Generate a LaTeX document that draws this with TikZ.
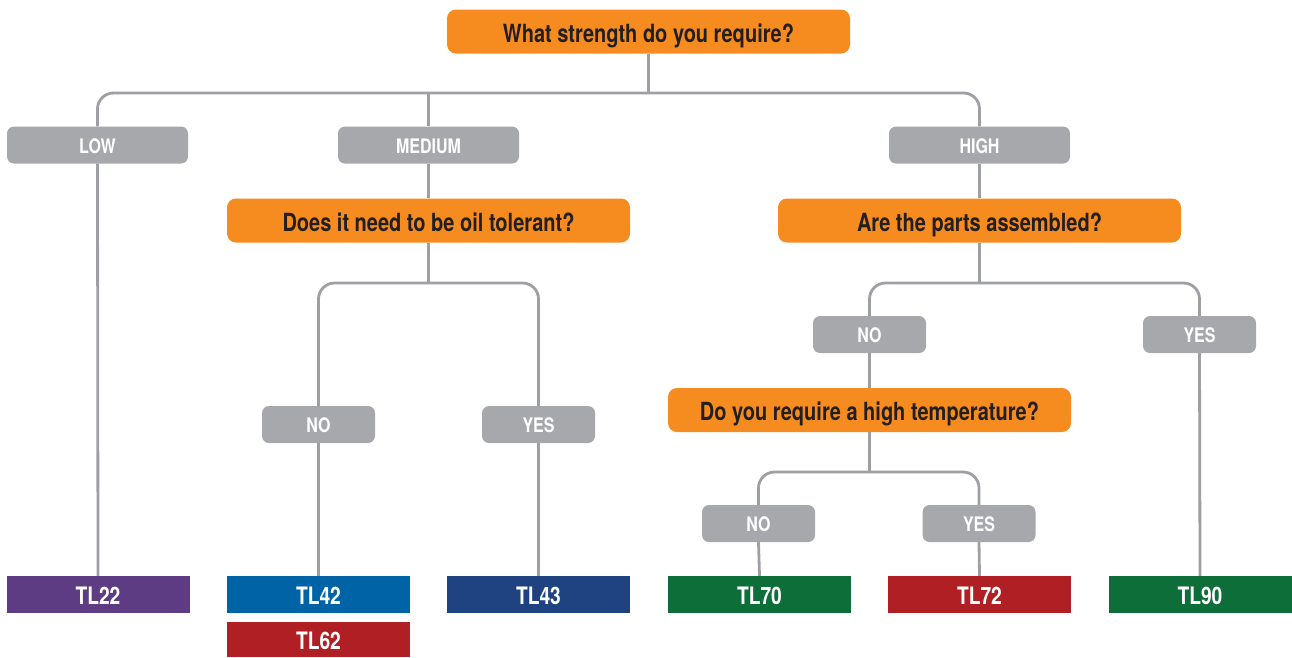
\documentclass[tikz,border=0pt]{standalone}
\usepackage{fontspec}
\setmainfont{TeX Gyre Heros}[FakeStretch=0.8]
\definecolor{qorange}{HTML}{F68B1F}
\definecolor{lgrey}{HTML}{A7A8AB}
\definecolor{cgrey}{HTML}{9D9FA2}
\definecolor{tpurple}{HTML}{5E3C84}
\definecolor{tblue}{HTML}{0063A6}
\definecolor{tnavy}{HTML}{1E4380}
\definecolor{tgreen}{HTML}{0E6E39}
\definecolor{tred}{HTML}{B01F24}
\definecolor{tdark}{HTML}{231F20}
\tikzset{
  question/.style={fill=qorange, rounded corners=9pt, minimum width=403pt, minimum height=44pt, inner sep=0pt, text=tdark, text height=22pt, text depth=1pt, font=\fontsize{25}{28}\selectfont\bfseries},
  answer/.style={fill=lgrey, rounded corners=7pt, minimum height=37pt, inner sep=0pt, text=white, text height=16.5pt, text depth=0pt, font=\fontsize{20}{22}\selectfont\bfseries},
  wide/.style={answer, minimum width=181pt},
  narrow/.style={answer, minimum width=113pt},
  product/.style={minimum width=183pt, minimum height=37pt, inner sep=0pt, text=white, text height=20pt, text depth=0pt, font=\fontsize{24}{28}\selectfont\bfseries},
  conn/.style={draw=cgrey, line width=2.8pt, rounded corners=16pt}
}
\begin{document}
\begin{tikzpicture}[x=1pt,y=-1pt]
\useasboundingbox (0,0) rectangle (1292,657);
% questions
\node[question] (q1) at (648.5,31.5) {What strength do you require?};
\node[question] (q2) at (428.5,220.5) {Does it need to be oil tolerant?};
\node[question] (q3) at (979.5,220.5) {Are the parts assembled?};
\node[question] (q4) at (869.5,410) {Do you require a high temperature?};
% answers
\node[wide] (low) at (97.5,145) {LOW};
\node[wide] (med) at (428.5,145) {MEDIUM};
\node[wide] (high) at (979.5,145) {HIGH};
\node[narrow] (no1) at (318.5,424.5) {NO};
\node[narrow] (yes1) at (538.5,424.5) {YES};
\node[narrow] (no2) at (869.5,334.5) {NO};
\node[narrow] (yes2) at (1199.5,334.5) {YES};
\node[narrow] (no3) at (758.5,523.5) {NO};
\node[narrow] (yes3) at (979,523.5) {YES};
% products
\node[product, fill=tpurple] (tl22) at (98,594.5) {TL22};
\node[product, fill=tblue] (tl42) at (318.5,594.5) {TL42};
\node[product, fill=tred, minimum height=35pt] (tl62) at (318.5,639.5) {TL62};
\node[product, fill=tnavy] (tl43) at (538.5,594.5) {TL43};
\node[product, fill=tgreen] (tl70) at (759.5,594.5) {TL70};
\node[product, fill=tred] (tl72) at (979.5,594.5) {TL72};
\node[product, fill=tgreen] (tl90) at (1200,594.5) {TL90};
% junctions
\coordinate (j1) at (648.5,93);
\coordinate (j2) at (428.5,283);
\coordinate (j3) at (979.5,283);
\coordinate (j4) at (869.5,472);
\draw[conn] (q1.south) -- (j1);
\draw[conn] (low.north) |- (j1) -| (high.north);
\draw[conn] (med.north) -- (med.north |- j1);
\draw[conn] (low.south) -- (tl22.north);
\draw[conn] (med.south) -- (q2.north);
\draw[conn] (q2.south) -- (j2);
\draw[conn] (no1.north) |- (j2) -| (yes1.north);
\draw[conn] (no1.south) -- (tl42.north);
\draw[conn] (yes1.south) -- (tl43.north);
\draw[conn] (high.south) -- (q3.north);
\draw[conn] (q3.south) -- (j3);
\draw[conn] (no2.north) |- (j3) -| (yes2.north);
\draw[conn] (yes2.south) -- (tl90.north);
\draw[conn] (no2.south) -- (q4.north);
\draw[conn] (q4.south) -- (j4);
\draw[conn] (no3.north) |- (j4) -| (yes3.north);
\draw[conn] (no3.south) -- (tl70.north);
\draw[conn] (yes3.south) -- (tl72.north);
\end{tikzpicture}
\end{document}
